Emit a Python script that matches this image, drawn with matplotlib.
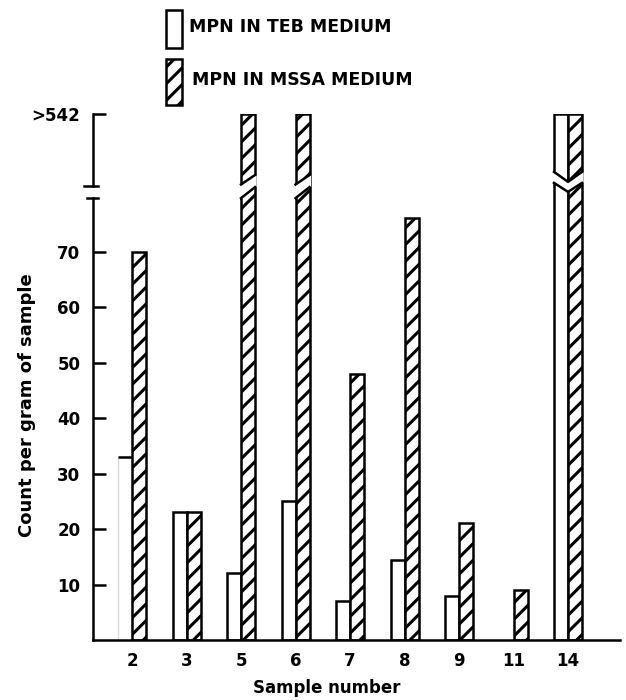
import numpy as np
import matplotlib
matplotlib.use('Agg')
import matplotlib.pyplot as plt
from matplotlib.patches import Rectangle, Polygon

# values (>542 drawn as 542, on the broken stub)
samples = ['2', '3', '5', '6', '7', '8', '9', '11', '14']
teb_counts = [33, 23, 12, 25, 7, 14.5, 8, 0, 542]
mssa_counts = [70, 23, 542, 542, 48, 76, 21, 9, 542]
y_ticks = [10, 20, 30, 40, 50, 60, 70, 542]
y_tick_labels = ['10', '20', '30', '40', '50', '60', '70', '>542']

BREAK = 80
TOP = 542
k = 14.8 / (TOP - BREAK)   # everything above the break squeezed into a stub


def forward(y):
    y = np.asarray(y, dtype=float)
    return np.where(y <= BREAK, y, BREAK + (y - BREAK) * k)


def inverse(s):
    s = np.asarray(s, dtype=float)
    return np.where(s <= BREAK, s, BREAK + (s - BREAK) / k)


plt.rcParams['font.family'] = ['DejaVu Sans']
plt.rcParams['font.weight'] = 'bold'
plt.rcParams['hatch.linewidth'] = 2.2
LW = 1.8

fig = plt.figure(figsize=(6.26, 7.0), dpi=100)
ax = fig.add_axes([93 / 626, 60 / 700, 527 / 626, 526 / 700])
ax.set_yscale('function', functions=(forward, inverse))

x = np.arange(len(samples))
w = 0.257

teb = np.array(teb_counts, dtype=float)
mssa = np.array(mssa_counts, dtype=float)
has_teb = teb > 0
teb_bars = ax.bar(x[has_teb] - w / 2, teb[has_teb], w, color='white',
                  edgecolor='black', linewidth=LW, zorder=2)
mssa_bars = ax.bar(x + w / 2, mssa, w, color='white', edgecolor='black',
                   hatch='//', linewidth=LW, zorder=2)

# sample 2 TEB bar is almost faded out in the print, only its top is clear
teb_bars[0].set_edgecolor('0.85')
teb_bars[0].set_linewidth(1.0)
ax.hlines(teb[0], x[0] - w, x[0], color='black', linewidth=LW, zorder=3)

trans = ax.get_xaxis_transform()
pad = 0.03
for i in range(len(samples)):
    if mssa[i] >= TOP and teb[i] < TOP:
        # slanted break on the single hatched bar
        x0, x1 = x[i], x[i] + w
        lo_l, lo_r, up_l, up_r = 0.840, 0.861, 0.866, 0.884
        ax.add_patch(Polygon([(x0 - pad, lo_l), (x1 + pad, lo_r),
                              (x1 + pad, up_r), (x0 - pad, up_l)],
                             closed=True, facecolor='white', edgecolor='none',
                             transform=trans, zorder=3))
        ax.plot([x0, x1], [lo_l, lo_r], color='black', lw=LW, transform=trans, zorder=4)
        ax.plot([x0, x1], [up_l, up_r], color='black', lw=LW, transform=trans, zorder=4)
    elif mssa[i] >= TOP and teb[i] >= TOP:
        # chevron break across the pair
        x0, c, x1 = x[i] - w, x[i], x[i] + w
        lo_s, lo_c, up_s, up_c = 0.869, 0.852, 0.890, 0.871
        ax.add_patch(Polygon([(x0 - pad, lo_s), (c, lo_c), (x1 + pad, lo_s),
                              (x1 + pad, up_s), (c, up_c), (x0 - pad, up_s)],
                             closed=True, facecolor='white', edgecolor='none',
                             transform=trans, zorder=3))
        ax.plot([x0, c, x1], [lo_s, lo_c, lo_s], color='black', lw=LW,
                transform=trans, zorder=4)
        ax.plot([x0, c, x1], [up_s, up_c, up_s], color='black', lw=LW,
                transform=trans, zorder=4)

ax.set_xlim(-0.716, 8.954)
ax.set_ylim(0, TOP)
ax.set_yticks(y_ticks, y_tick_labels)
ax.set_xticks(x, samples)
ax.tick_params(axis='y', direction='in', length=9, width=LW, pad=9, labelsize=12)
ax.tick_params(axis='x', length=0, pad=9, labelsize=12)
ax.minorticks_off()

for side in ['top', 'right', 'left']:
    ax.spines[side].set_visible(False)
ax.spines['bottom'].set_linewidth(LW)

# broken y axis drawn by hand
ax.plot([0, 0], [0, 0.840], color='black', lw=LW, transform=ax.transAxes, clip_on=False)
ax.plot([-0.011, 0.0095], [0.840, 0.840], color='black', lw=LW,
        transform=ax.transAxes, clip_on=False)
ax.plot([0, 0], [0.863, 1.0], color='black', lw=LW, transform=ax.transAxes, clip_on=False)
ax.plot([-0.017, 0.0095], [0.863, 0.863], color='black', lw=LW,
        transform=ax.transAxes, clip_on=False)

fig.text(27 / 626, 1 - 405 / 700, 'Count per gram of sample', rotation=90,
         ha='center', va='center', fontsize=13, fontweight='bold')
fig.text(327 / 626, 1 - 688 / 700, 'Sample number', ha='center', va='center',
         fontsize=12, fontweight='bold')

# legend
fig.patches.append(Rectangle((166 / 626, 1 - 48 / 700), 16 / 626, 38 / 700,
                             facecolor='white', edgecolor='black', linewidth=LW,
                             transform=fig.transFigure))
fig.patches.append(Rectangle((166 / 626, 1 - 105 / 700), 16 / 626, 46 / 700,
                             facecolor='white', edgecolor='black', linewidth=LW,
                             hatch='//', transform=fig.transFigure))
fig.text(189 / 626, 1 - 27 / 700, 'MPN IN TEB MEDIUM', ha='left', va='center',
         fontsize=12.5, fontweight='bold')
fig.text(192 / 626, 1 - 80 / 700, 'MPN IN MSSA MEDIUM', ha='left', va='center',
         fontsize=12.5, fontweight='bold')

fig.savefig('out.png', dpi=100, facecolor='white')
